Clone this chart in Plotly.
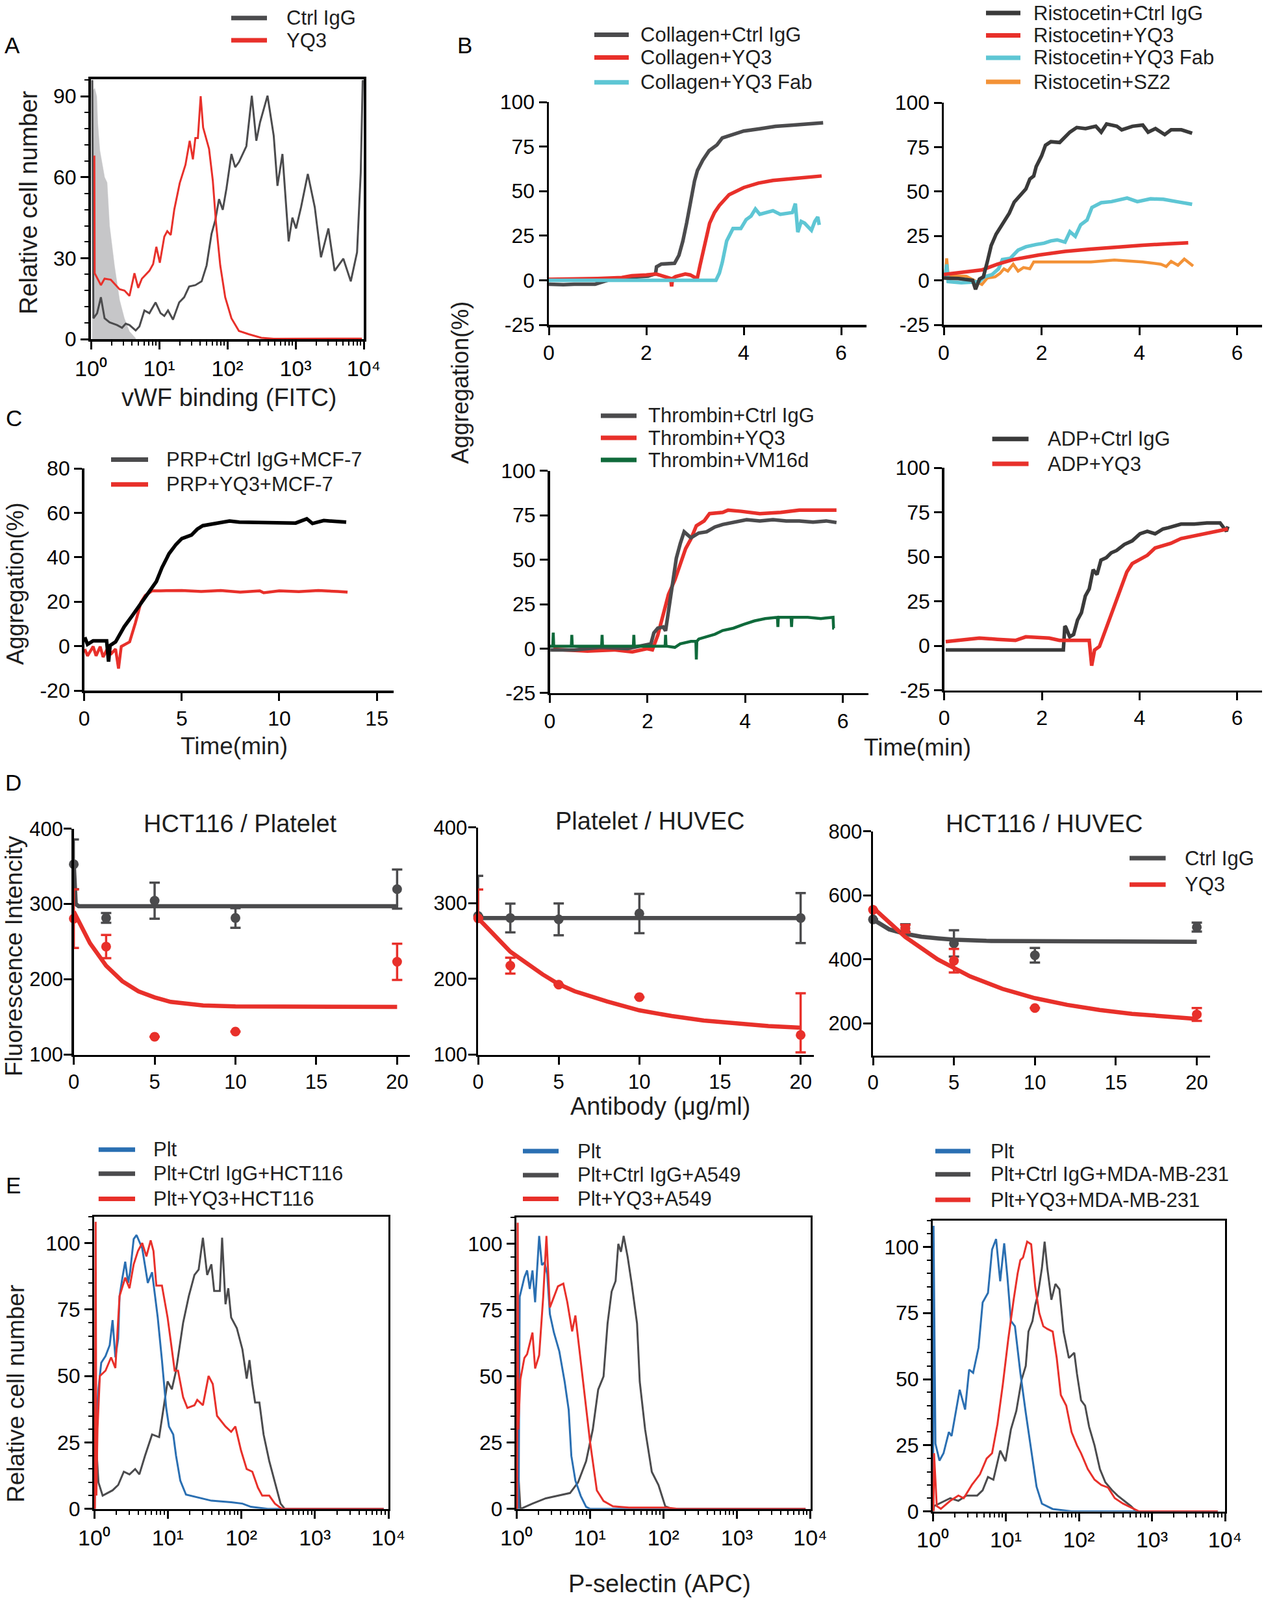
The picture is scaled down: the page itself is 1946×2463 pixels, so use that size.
import numpy as np
import plotly.graph_objects as go

W, H = 1946, 2463
FONT = "Liberation Sans, Arial, Helvetica, sans-serif"
GRAY = "#4b4b4d"
DARK = "#3a3a3a"
RED = "#e8302a"
CYAN = "#5ec6d4"
ORANGE = "#f39237"
GREEN = "#0f6a3b"
BLUE = "#2a6fb2"
SHADE = "#c6c6c8"
TXT = "#1e1e1e"

# ---------------- Panel A : vWF binding histogram (x stored as log10 of FITC) ----------------
A_iso_log10x = [0.02, 0.026, 0.055, 0.085, 0.10, 0.13, 0.20, 0.237, 0.273, 0.346, 0.42, 0.49, 0.565, 0.656]
A_iso_y = [0, 92, 93, 90, 80, 70, 60, 58, 42, 27, 14.5, 7.7, 2.8, 0.3]
A_ctrl_log10x = [0.02, 0.03, 0.036, 0.091, 0.146, 0.2, 0.273, 0.383, 0.456, 0.51, 0.565, 0.656, 0.711, 0.784,
                 0.857, 0.948, 1.021, 1.076, 1.13, 1.203, 1.294, 1.367, 1.44, 1.531, 1.623, 1.696, 1.768, 1.823,
                 1.878, 1.933, 1.987, 2.06, 2.115, 2.17, 2.224, 2.279, 2.359, 2.425, 2.48, 2.589, 2.68, 2.735,
                 2.808, 2.899, 2.954, 3.008, 3.081, 3.18, 3.282, 3.373, 3.482, 3.573, 3.701, 3.81, 3.902, 3.956, 3.985]
A_ctrl_y = [96, 40, 7.7, 9.6, 15.5, 7.7, 6.2, 5.2, 4.2, 5.7, 5.2, 3.2, 4.7, 10.6, 9.6, 13.6, 9.6, 8.6, 10.6, 7.2,
            13.6, 15.5, 19.5, 20, 21.4, 27.3, 39, 44, 51.9, 47.9, 55.8, 68.6, 63.7, 65.6, 68.6, 71.5, 90.2, 73.5,
            80.4, 90.2, 75.4, 56.8, 68.6, 36.2, 45, 41, 48.9, 61.2, 48.9, 30.3, 41, 25.3, 29.8, 21.4, 32.2, 61.7, 96]
A_yq3_log10x = [0.05, 0.055, 0.146, 0.2, 0.292, 0.346, 0.419, 0.492, 0.565, 0.638, 0.693, 0.747, 0.857, 0.912,
                0.959, 1.01, 1.076, 1.119, 1.17, 1.222, 1.302, 1.386, 1.448, 1.495, 1.531, 1.568, 1.609, 1.645,
                1.732, 1.787, 1.834, 1.896, 1.969, 2.06, 2.17, 2.315, 2.498, 2.68, 3.974]
A_yq3_y = [68, 24.4, 20, 22.4, 22, 20.4, 18.5, 18, 16, 24.4, 19, 22.4, 25.3, 27.8, 34.2, 28.3, 38, 40, 38.6, 48,
           57.8, 64.6, 73.5, 66.6, 74.5, 74.5, 90, 78.4, 70.5, 58.7, 43, 27.3, 15.5, 7.7, 3, 1.8, 0.5, 0.1, 0.2]

# ---------------- Panel B : aggregation traces (time in min, aggregation in %) ----------------
B_col_ctrl_t = [0, 0.3, 0.52, 0.95, 1.33, 1.6, 2.04, 2.19, 2.21, 2.31, 2.58, 2.67, 2.75, 2.83, 2.91, 2.99, 3.05,
                3.16, 3.29, 3.45, 3.56, 3.78, 4.0, 4.33, 4.65, 4.98, 5.3, 5.63]
B_col_ctrl_y = [-2.2, -2.5, -2.2, -2.2, 1, 1.5, 2.3, 3.6, 7.5, 9.1, 9.5, 14, 21.9, 32.3, 44, 55.7, 61.6, 67.4,
                72.7, 75.9, 79.8, 81.8, 83.7, 85, 86.3, 87, 87.6, 88.3]
B_col_yq3_t = [0, 0.5, 1.0, 1.5, 1.7, 2.0, 2.2, 2.5, 2.52, 2.54, 2.6, 2.8, 2.9, 3.0, 3.05, 3.1, 3.2, 3.3, 3.4,
               3.5, 3.7, 4.0, 4.3, 4.6, 5.0, 5.3, 5.6]
B_col_yq3_y = [0.5, 0.5, 1, 1.5, 2.5, 3, 3.5, 1, -3.5, 1, 2, 3.5, 3, 1.5, 1.5, 8, 20, 32, 38, 42, 48, 52, 54.5,
               56, 57, 57.5, 58.5]
B_col_fab_t = [0, 1, 2, 3, 3.43, 3.5, 3.56, 3.65, 3.78, 3.94, 4.05, 4.15, 4.24, 4.33, 4.45, 4.6, 4.75, 4.87,
               5.0, 5.06, 5.11, 5.18, 5.25, 5.32, 5.39, 5.46, 5.52, 5.55]
B_col_fab_y = [0, 0, 0, 0, 0, 4, 10, 22, 29, 29, 34, 36, 40, 37, 38, 39, 37, 37.5, 38, 43, 27, 33, 32, 30, 28,
               33, 35.5, 31]

B_ris_ctrl_t = [0, 0.3, 0.59, 0.65, 0.73, 0.81, 0.89, 0.97, 1.07, 1.2, 1.34, 1.44, 1.58, 1.68, 1.76, 1.84, 1.89,
                2.0, 2.08, 2.19, 2.37, 2.48, 2.58, 2.72, 2.9, 3.11, 3.22, 3.33, 3.54, 3.64, 3.86, 4.07, 4.18,
                4.33, 4.52, 4.65, 4.86, 5.08]
B_ris_ctrl_y = [1.3, 1, 0, -5, 0.7, 2, 10.4, 19.6, 26, 32, 37.8, 44, 48, 51.5, 57, 58.7, 64, 70, 76, 78, 77.6,
                80.8, 83.4, 86, 85.4, 86.7, 83.4, 88, 86.7, 84.7, 86.7, 87.4, 83.4, 85.4, 82, 84.7, 84.7, 82.8]
B_ris_yq3_t = [0, 0.78, 1.1, 1.42, 1.95, 2.48, 3.0, 3.54, 4.07, 4.6, 5.0]
B_ris_yq3_y = [3.3, 5.9, 9.1, 11.7, 14.3, 16.3, 17.6, 18.9, 19.8, 20.6, 21.1]
B_ris_fab_t = [0.03, 0.06, 0.09, 0.36, 0.73, 0.83, 0.99, 1.12, 1.2, 1.36, 1.52, 1.68, 1.89, 2.05, 2.19, 2.32,
               2.48, 2.58, 2.69, 2.8, 2.93, 3.03, 3.22, 3.43, 3.75, 3.96, 4.23, 4.49, 4.76, 5.08]
B_ris_fab_y = [2, 9, -0.7, -1.3, -0.7, 2, 3.3, 6.5, 11.7, 12.4, 17, 18.9, 20.2, 20.9, 22.2, 22.8, 21.5, 27.4,
               24.8, 31.3, 33.9, 41, 43.7, 44.3, 46.3, 44.3, 45.9, 45.6, 44.3, 42.8]
B_ris_sz2_t = [0.03, 0.06, 0.09, 0.46, 0.78, 0.89, 1.05, 1.15, 1.23, 1.31, 1.42, 1.52, 1.63, 1.76, 1.84, 2.05,
               2.48, 3.01, 3.49, 4.07, 4.44, 4.55, 4.65, 4.79, 4.92, 5.02, 5.1]
B_ris_sz2_y = [3, 12.4, 2.6, 2.3, -2.3, 1.3, 2, 3.9, 6.5, 5.2, 9.1, 5.2, 7.2, 6.5, 10.4, 10.4, 10.7, 10.4, 11.5,
               10.4, 9.1, 7.8, 10.7, 8.5, 12, 9.8, 8.1]

B_thr_ctrl_t = [0.01, 0.5, 1.04, 1.59, 2.07, 2.13, 2.21, 2.32, 2.37, 2.43, 2.51, 2.59, 2.67, 2.75, 2.89, 3.05,
                3.21, 3.38, 3.54, 3.76, 4.03, 4.3, 4.57, 4.84, 5.11, 5.39, 5.66, 5.87]
B_thr_ctrl_y = [-0.7, -0.7, 0.7, 0, 2.7, 8.8, 11.5, 12.2, 10, 21, 34.6, 50.8, 59, 65.7, 62.3, 65, 65.7, 68.4,
                69.8, 71.1, 72.5, 71.8, 72.5, 71.8, 71.8, 71.1, 71.8, 70.9]
B_thr_yq3_t = [0.07, 0.77, 1.31, 1.69, 1.99, 2.1, 2.21, 2.32, 2.43, 2.56, 2.67, 2.78, 2.89, 3.0, 3.16, 3.27,
               3.54, 3.65, 3.92, 4.3, 4.73, 5.11, 5.49, 5.87]
B_thr_yq3_y = [-0.4, -1.4, -0.7, -1.8, 0, -0.7, 7.5, 19.6, 30.5, 38.6, 48.1, 56.2, 61.7, 69.1, 71.8, 75.9, 76.6,
               77.9, 77.2, 75.9, 76.6, 77.9, 77.9, 77.9]
B_thr_vm_t = [0, 0.06, 0.07, 0.08, 0.44, 0.45, 0.46, 1.06, 1.07, 1.08, 1.71, 1.72, 1.73, 2.0, 2.36, 2.37, 2.38,
              2.56, 2.67, 2.89, 2.99, 3.0, 3.01, 3.05, 3.21, 3.38, 3.54, 3.76, 3.97, 4.19, 4.41, 4.66, 4.67, 4.68,
              4.94, 4.95, 4.96, 5.28, 5.55, 5.8, 5.81, 5.82]
B_thr_vm_y = [1.4, 1.4, 9, 1.4, 1.4, 7.7, 1.4, 1.4, 7.7, 1.4, 1.4, 7.7, 1.4, 1.4, 1.4, 7.7, 1.4, 0.7, 2.7, 4.1,
              4.1, -6.1, 4.1, 5.4, 6.8, 8.1, 10.2, 11.5, 13.6, 15.6, 16.9, 17.6, 12.2, 17.6, 17.6, 12.2, 17.6,
              17.6, 16.9, 17.6, 11.5, 11.5]

B_adp_ctrl_t = [0.03, 2.44, 2.47, 2.49, 2.57, 2.65, 2.73, 2.81, 2.89, 2.97, 3.05, 3.13, 3.21, 3.32, 3.42, 3.53,
                3.69, 3.85, 4.01, 4.16, 4.32, 4.48, 4.59, 4.85, 5.12, 5.38, 5.65, 5.78, 5.81]
B_adp_ctrl_y = [-2.4, -2.4, 11, 10.4, 5, 6.3, 14.4, 18.5, 27.9, 31.9, 42.7, 40, 48.1, 49.5, 52.2, 53.5, 56.9,
                58.9, 62.9, 64.3, 62.9, 65.6, 66.3, 68.3, 68.3, 69, 69, 64.3, 67]
B_adp_yq3_t = [0.03, 0.34, 0.72, 1.09, 1.46, 1.67, 2.15, 2.36, 2.73, 2.97, 3.02, 3.08, 3.18, 3.29, 3.4, 3.5,
               3.61, 3.74, 3.85, 4.01, 4.16, 4.32, 4.48, 4.64, 4.85, 5.12, 5.38, 5.65, 5.81]
B_adp_yq3_y = [2.3, 3, 4.3, 3.6, 3, 5, 4.3, 3, 3, 3, -11.2, -2.4, -0.4, 7.7, 15.8, 23.9, 31.9, 41.4, 46.1, 48.8,
               50.8, 54.9, 56.2, 57.5, 60.2, 61.6, 62.9, 64.3, 65.6]

# ---------------- Panel C : PRP + MCF-7 ----------------
C_ctrl_t = [0.03, 0.17, 0.46, 0.89, 1.15, 1.25, 1.33, 1.61, 2.05, 2.48, 2.91, 3.34, 3.7, 3.99, 4.35, 4.71, 5.0,
            5.5, 5.79, 6.08, 6.66, 7.45, 7.95, 9.39, 10.84, 11.41, 11.7, 12.28, 13.0, 13.43]
C_ctrl_y = [4, 0.8, 2.4, 2.4, 2.4, -7, 0.3, 1.9, 8.7, 13.9, 19.1, 24.4, 29.1, 35.4, 41.6, 45.8, 48.4, 50, 52.6,
            54.2, 55.2, 56.3, 55.8, 55.8, 55.4, 57.3, 55.2, 56.5, 56.3, 55.8]
C_yq3_t = [0.03, 0.17, 0.46, 0.61, 0.82, 0.97, 1.18, 1.4, 1.61, 1.76, 1.9, 2.12, 2.33, 2.62, 2.91, 3.13, 3.49,
           3.92, 5.0, 6.0, 7.0, 8.0, 9.0, 9.2, 10.0, 11.0, 12.0, 13.0, 13.5]
C_yq3_y = [-1.3, -4.4, -0.2, -4.4, -0.2, -4.9, -1.3, -3.3, -1.3, -10.1, -0.2, 0.8, 1.9, 10.3, 19.7, 22.8, 24.9,
           24.9, 25, 24.6, 25, 24.3, 24.9, 24.0, 24.9, 24.5, 25, 24.6, 24.3]

# ---------------- Panel D : adhesion, fluorescence intensity vs antibody ----------------
D_dose = [0, 2, 5, 10, 20]
D1_ctrl = [352.8, 281.5, 304.4, 281.5, 319.8]
D1_ctrl_err = [33, 6.5, 24, 13, 26]
D1_yq3 = [280.6, 243.5, 123.8, 130.6, 223.3]
D1_yq3_err = [39, 15.5, 0, 0, 24]
D1_ctrl_fit_x = [0, 0.12, 0.3, 5, 10, 15, 20]
D1_ctrl_fit_y = [353, 300, 297, 297, 297, 297, 297]
D1_yq3_fit_x = [0, 1, 2, 3, 4, 5, 6, 8, 10, 15, 20]
D1_yq3_fit_y = [290, 248, 218, 197.5, 184, 176, 170, 165.4, 164, 163.3, 163.3]

D2_ctrl = [283, 280.4, 278.6, 286.3, 280.4]
D2_ctrl_err_plus = [53, 19, 21, 26, 33]
D2_ctrl_err_minus = [0, 19, 21, 26, 33]
D2_yq3 = [280, 217.5, 192.4, 176, 126]
D2_yq3_err_plus = [38, 10.5, 0, 0, 55]
D2_yq3_err_minus = [0, 10.5, 0, 0, 23]
D2_ctrl_fit_x = [0, 5, 10, 15, 20]
D2_ctrl_fit_y = [280.4, 280.4, 280.4, 280.4, 280.4]
D2_yq3_fit_x = [0, 2, 4, 5, 6, 8, 10, 12, 14, 16, 18, 20]
D2_yq3_fit_y = [280, 236, 206, 193, 183.6, 170.3, 158.5, 151, 145, 140.8, 137.8, 135.5]

D3_ctrl = [525, 498, 450, 413, 501]
D3_ctrl_err = [0, 12, 41, 23, 14]
D3_yq3 = [555, 496, 396, 248, 228]
D3_yq3_err = [0, 12, 37, 0, 20]
D3_ctrl_fit_x = [0, 1, 2, 3, 4, 5, 7, 10, 15, 20]
D3_ctrl_fit_y = [525, 494, 480, 471, 466, 462, 458, 457, 456, 455]
D3_yq3_fit_x = [0, 2, 4, 5, 6, 8, 10, 12, 14, 16, 18, 20]
D3_yq3_fit_y = [562, 470, 400, 372, 347, 308, 279, 258, 242, 230, 221, 214]

# ---------------- Panel E : P-selectin histograms (x stored as log10 of APC) ----------------
E1_plt_log10x = [0.005, 0.019, 0.058, 0.096, 0.154, 0.211, 0.25, 0.288, 0.326, 0.345, 0.384, 0.422, 0.461, 0.488,
                 0.537, 0.576, 0.653, 0.729, 0.787, 0.818, 0.864, 0.921, 0.979, 1.017, 1.075, 1.113, 1.171, 1.248,
                 1.401, 1.593, 1.862, 2.015, 2.131, 2.361, 3.935]
E1_plt_y = [0, 30, 45, 55, 57.5, 61.6, 71, 57, 64, 80, 87, 93, 85, 89, 101.5, 103, 98, 85, 89, 82, 72, 56, 38,
            31, 28, 20, 10.6, 5.4, 4.3, 3.1, 2.5, 2, 0.8, 0, 0]
E1_ctrl_log10x = [0.005, 0.019, 0.058, 0.115, 0.25, 0.326, 0.403, 0.48, 0.557, 0.614, 0.691, 0.787, 0.883, 0.94,
                  0.998, 1.056, 1.113, 1.209, 1.286, 1.363, 1.42, 1.478, 1.536, 1.593, 1.631, 1.708, 1.739, 1.785,
                  1.823, 1.862, 1.939, 2.015, 2.073, 2.111, 2.15, 2.188, 2.246, 2.303, 2.38, 2.457, 2.534, 2.591,
                  3.935]
E1_ctrl_y = [0, 28, 10, 5, 7, 9, 14, 13, 15, 13, 20, 28, 27, 38, 48, 45, 52, 70, 80, 88, 90, 102, 88, 92, 82, 82,
             102, 77, 83, 72, 68, 60, 49, 56, 47, 40, 40, 28, 18, 10, 2, 0, 0]
E1_yq3_log10x = [0.01, 0.02, 0.03, 0.045, 0.077, 0.154, 0.23, 0.288, 0.345, 0.422, 0.48, 0.537, 0.595, 0.653,
                 0.71, 0.768, 0.806, 0.845, 0.921, 0.998, 1.056, 1.094, 1.14, 1.209, 1.267, 1.363, 1.401, 1.478,
                 1.555, 1.612, 1.67, 1.785, 1.862, 1.919, 1.996, 2.073, 2.15, 2.226, 2.284, 2.38, 2.457, 2.553,
                 3.935]
E1_yq3_y = [0, 108, 5, 30, 50, 52, 57, 53, 80, 87, 83, 92, 97, 100, 95, 101, 97, 84, 84, 72, 60, 52, 52, 42, 38,
            39, 41, 39, 50, 47, 35, 31, 29, 31, 22, 15, 14, 8, 5, 5, 2, 0, 0]

E2_plt_log10x = [0.03, 0.045, 0.109, 0.146, 0.182, 0.219, 0.255, 0.31, 0.347, 0.383, 0.42, 0.456, 0.511, 0.584,
                 0.657, 0.712, 0.748, 0.803, 0.876, 0.949, 1.004, 3.935]
E2_plt_y = [0, 80, 87.4, 90, 83, 90, 78, 103, 92, 93, 88.6, 73.5, 66.5, 59.5, 48, 37.4, 20, 10.7, 4.9, 0.8, 0, 0]
E2_ctrl_log10x = [0.01, 0.029, 0.055, 0.219, 0.401, 0.73, 0.839, 0.949, 1.04, 1.113, 1.186, 1.241, 1.296, 1.35,
                  1.387, 1.423, 1.46, 1.515, 1.569, 1.642, 1.679, 1.752, 1.843, 1.934, 2.026, 2.117, 3.935]
E2_ctrl_y = [0, 12, 0, 2, 4, 6, 10, 18, 30, 45, 50, 70, 82, 86, 100, 97, 103, 95, 85, 70, 48, 30, 14, 9, 1, 0, 0]
E2_yq3_log10x = [0.01, 0.018, 0.025, 0.055, 0.109, 0.146, 0.219, 0.255, 0.31, 0.365, 0.409, 0.456, 0.511, 0.566,
                 0.639, 0.693, 0.759, 0.803, 0.858, 0.931, 1.004, 1.095, 1.186, 1.314, 1.533, 2.044, 2.2, 3.935]
E2_yq3_y = [0, 108, 30, 49, 57, 58.4, 66.5, 53, 58, 80, 103, 76, 80, 84, 85, 78, 67, 73, 60, 43, 25, 7, 3, 1,
            0.5, 0.5, 0, 0]

E3_plt_log10x = [0.005, 0.011, 0.037, 0.092, 0.148, 0.221, 0.258, 0.314, 0.369, 0.443, 0.498, 0.553, 0.627,
                 0.683, 0.756, 0.812, 0.867, 0.923, 0.978, 1.022, 1.07, 1.125, 1.199, 1.273, 1.347, 1.421, 1.494,
                 1.642, 1.9, 3.9]
E3_plt_y = [0, 108, 25.6, 19.2, 22, 30, 28.5, 37.3, 46, 38.5, 53.6, 52.4, 62, 79, 82.6, 99, 103, 87, 101.4,
            88.6, 72, 70, 52.4, 37.3, 23.3, 9.3, 2.9, 0.9, 0, 0]
E3_ctrl_log10x = [0.01, 0.018, 0.24, 0.351, 0.461, 0.609, 0.683, 0.756, 0.83, 0.923, 0.996, 1.07, 1.144, 1.218,
                  1.273, 1.31, 1.365, 1.402, 1.439, 1.494, 1.531, 1.568, 1.624, 1.679, 1.734, 1.79, 1.863, 1.937,
                  1.974, 2.03, 2.085, 2.14, 2.214, 2.288, 2.362, 2.454, 2.528, 2.62, 2.712, 2.786, 3.9]
E3_ctrl_y = [0, 2, 5, 4, 6, 6, 8, 13, 12, 23, 19, 31, 38, 50, 55, 68, 72, 78, 82, 92, 102, 92, 80, 86, 84, 68,
             58, 60, 52, 42, 40, 32, 25, 16, 11, 8, 6, 4, 2, 0, 0]
E3_yq3_log10x = [0.01, 0.018, 0.055, 0.111, 0.24, 0.351, 0.424, 0.535, 0.646, 0.738, 0.812, 0.886, 0.959, 1.033,
                 1.107, 1.162, 1.199, 1.236, 1.292, 1.347, 1.402, 1.458, 1.513, 1.568, 1.642, 1.697, 1.753, 1.827,
                 1.9, 1.974, 2.03, 2.122, 2.214, 2.306, 2.399, 2.491, 2.601, 2.712, 2.823, 3.9]
E3_yq3_y = [0, 22, 2, 1, 4, 6, 5, 10, 14, 20, 22, 33, 48, 65, 80, 90, 95, 96, 102, 101, 85, 75, 70, 69, 68, 58, 44,
            40, 30, 25, 22, 16, 12, 10, 9, 5, 3, 1.5, 0, 0]

# ---------------- tick labels ----------------
DECADE_VALS = [1, 10, 100, 1000, 10000]
DECADE_TEXT = ["10\u2070", "10\u00b9", "10\u00b2", "10\u00b3", "10\u2074"]
DECADE_MINOR = [m * 10 ** d for d in range(4) for m in range(2, 10)]
AGG_TICKS = [-25, 0, 25, 50, 75, 100]
AGG_TEXT = ["-25", "0", "25", "50", "75", "100"]
C_TICKS = [-20, 0, 20, 40, 60, 80]
C_TEXT = ["-20", "0", "20", "40", "60", "80"]
TIME_TICKS = [0, 2, 4, 6]
DOSE_TICKS = [0, 5, 10, 15, 20]

fig = go.Figure()


def sfx(n):
    return "" if n == 1 else str(n)


def axes(n, xpx, ypx, xr, yr, xt, yt, xtt=None, ytt=None, xtype="linear", box=False, lw=3.5,
         xminor=None, yminor=None, tsize=32, ystand=0, xtsize=None):
    s = sfx(n)
    base = dict(showgrid=False, zeroline=False, showline=True, linecolor="black", linewidth=lw,
                mirror=box, ticks="outside", ticklen=12, tickwidth=3, tickcolor="black",
                tickfont=dict(family=FONT, size=tsize, color="black"), tickmode="array",
                fixedrange=True)
    xa = dict(base, domain=[xpx[0] / W, xpx[1] / W], range=xr, type=xtype, anchor="y" + s,
              tickvals=xt)
    if xtsize is not None:
        xa["tickfont"] = dict(family=FONT, size=xtsize, color="black")
    if xtt is not None:
        xa["ticktext"] = xtt
    if xminor is not None:
        xa["minor"] = xminor
    ya = dict(base, domain=[1 - ypx[1] / H, 1 - ypx[0] / H], range=yr, anchor="x" + s, tickvals=yt,
              ticklabelstandoff=ystand)
    if ytt is not None:
        ya["ticktext"] = ytt
    if yminor is not None:
        ya["minor"] = yminor
    fig.update_layout(**{"xaxis" + s: xa, "yaxis" + s: ya})


def line(n, x, y, color, width, name, fill=None, fillcolor=None):
    s = sfx(n)
    fig.add_trace(go.Scatter(x=x, y=y, mode="lines", name=name, showlegend=False,
                             line=dict(color=color, width=width), fill=fill, fillcolor=fillcolor,
                             xaxis="x" + s, yaxis="y" + s))


def points(n, x, y, plus, minus, color, name):
    s = sfx(n)
    fig.add_trace(go.Scatter(x=x, y=y, mode="markers", name=name, showlegend=False, cliponaxis=False,
                             marker=dict(size=15, color=color),
                             error_y=dict(type="data", symmetric=False, array=plus, arrayminus=minus,
                                          color=color, thickness=3.5, width=8),
                             xaxis="x" + s, yaxis="y" + s))


def legend(entries, xl0, xl1, xt, rows, size=31):
    for (label, color), yy in zip(entries, rows):
        fig.add_shape(type="line", xref="paper", yref="paper", x0=xl0 / W, x1=xl1 / W,
                      y0=1 - yy / H, y1=1 - yy / H, line=dict(color=color, width=7))
        fig.add_annotation(xref="paper", yref="paper", x=xt / W, y=1 - yy / H, text=label,
                           showarrow=False, xanchor="left", yanchor="middle",
                           font=dict(family=FONT, size=size, color=TXT))


def label(text, x, y, size=38, angle=0, color=TXT):
    fig.add_annotation(xref="paper", yref="paper", x=x / W, y=1 - y / H, text=text, showarrow=False,
                       xanchor="center", yanchor="middle", textangle=angle,
                       font=dict(family=FONT, size=size, color=color))


minor_log = dict(tickmode="array", tickvals=DECADE_MINOR, ticks="outside", ticklen=6, tickwidth=2,
                 tickcolor="black", showgrid=False)

# ---- axes ----
axes(1, (140, 560), (122, 522), [0, 4], [0, 96.3], DECADE_VALS, [0, 30, 60, 90], DECADE_TEXT,
     xtype="log", box=True, lw=4, xminor=minor_log, xtsize=34,
     yminor=dict(tickmode="linear", tick0=0, dtick=6, ticks="outside", ticklen=6, tickwidth=2,
                 tickcolor="black", showgrid=False))
axes(2, (845, 1334), (157, 500), [0, 6.52], [-25, 100], TIME_TICKS, AGG_TICKS, ytt=AGG_TEXT)
axes(3, (1453, 1943), (158, 500), [0, 6.51], [-25, 100], TIME_TICKS, AGG_TICKS, ytt=AGG_TEXT)
axes(4, (129.6, 605.7), (721, 1063), [0, 15.85], [-20, 80], [0, 5, 10, 15], C_TICKS, ytt=C_TEXT)
axes(5, (846.5, 1336.7), (724.7, 1066.9), [0, 6.52], [-25, 100], TIME_TICKS, AGG_TICKS, ytt=AGG_TEXT)
axes(6, (1453.7, 1943), (720, 1062.5), [0, 6.51], [-25, 100], TIME_TICKS, AGG_TICKS, ytt=AGG_TEXT)
axes(7, (113.6, 631.3), (1275.7, 1623.5), [0, 20.8], [100, 400], DOSE_TICKS, [100, 200, 300, 400],
     tsize=31, ystand=-5)
axes(8, (736, 1252.5), (1273.7, 1623.5), [0, 20.8], [100, 400], DOSE_TICKS, [100, 200, 300, 400],
     tsize=31, ystand=-5)
axes(9, (1344, 1862.5), (1279.9, 1624.7), [0, 20.8], [100, 800], DOSE_TICKS, [200, 400, 600, 800],
     tsize=31, ystand=-5)
e_yminor = dict(tickmode="linear", tick0=0, dtick=5, ticks="outside", ticklen=6, tickwidth=2,
                tickcolor="black", showgrid=False)
axes(10, (145, 598), (1872.6, 2322.8), [0, 4], [0, 110], DECADE_VALS, [0, 25, 50, 75, 100], DECADE_TEXT,
     xtype="log", box=True, lw=3, xminor=minor_log, yminor=e_yminor, xtsize=34)
axes(11, (795, 1247.5), (1874, 2322.8), [0, 4], [0, 110], DECADE_VALS, [0, 25, 50, 75, 100], DECADE_TEXT,
     xtype="log", box=True, lw=3, xminor=minor_log, yminor=e_yminor, xtsize=34)
axes(12, (1436, 1886), (1878.8, 2326.6), [0, 4], [0, 110], DECADE_VALS, [0, 25, 50, 75, 100], DECADE_TEXT,
     xtype="log", box=True, lw=3, xminor=minor_log, yminor=e_yminor, xtsize=34)

# ---- traces ----
def tenpow(v):
    return np.power(10.0, np.array(v))


line(1, tenpow(A_iso_log10x), A_iso_y, SHADE, 0.5, "Isotype", fill="tozeroy", fillcolor=SHADE)
line(1, tenpow(A_ctrl_log10x), A_ctrl_y, GRAY, 3, "Ctrl IgG")
line(1, tenpow(A_yq3_log10x), A_yq3_y, RED, 3, "YQ3")

line(2, B_col_ctrl_t, B_col_ctrl_y, GRAY, 5.5, "Collagen+Ctrl IgG")
line(2, B_col_yq3_t, B_col_yq3_y, RED, 5.5, "Collagen+YQ3")
line(2, B_col_fab_t, B_col_fab_y, CYAN, 5.5, "Collagen+YQ3 Fab")

line(3, B_ris_sz2_t, B_ris_sz2_y, ORANGE, 4.5, "Ristocetin+SZ2")
line(3, B_ris_fab_t, B_ris_fab_y, CYAN, 5.5, "Ristocetin+YQ3 Fab")
line(3, B_ris_yq3_t, B_ris_yq3_y, RED, 5.5, "Ristocetin+YQ3")
line(3, B_ris_ctrl_t, B_ris_ctrl_y, DARK, 5.5, "Ristocetin+Ctrl IgG")

line(4, C_yq3_t, C_yq3_y, RED, 4.5, "PRP+YQ3+MCF-7")
line(4, C_ctrl_t, C_ctrl_y, "black", 5.5, "PRP+Ctrl IgG+MCF-7")

line(5, B_thr_yq3_t, B_thr_yq3_y, RED, 5.5, "Thrombin+YQ3")
line(5, B_thr_ctrl_t, B_thr_ctrl_y, GRAY, 5.5, "Thrombin+Ctrl IgG")
line(5, B_thr_vm_t, B_thr_vm_y, GREEN, 4.5, "Thrombin+VM16d")

line(6, B_adp_ctrl_t, B_adp_ctrl_y, DARK, 5.5, "ADP+Ctrl IgG")
line(6, B_adp_yq3_t, B_adp_yq3_y, RED, 5.5, "ADP+YQ3")

line(7, D1_ctrl_fit_x, D1_ctrl_fit_y, GRAY, 6.5, "Ctrl IgG fit")
line(7, D1_yq3_fit_x, D1_yq3_fit_y, RED, 6.5, "YQ3 fit")
points(7, D_dose, D1_ctrl, D1_ctrl_err, D1_ctrl_err, GRAY, "Ctrl IgG")
points(7, D_dose, D1_yq3, D1_yq3_err, D1_yq3_err, RED, "YQ3")

line(8, D2_ctrl_fit_x, D2_ctrl_fit_y, GRAY, 6.5, "Ctrl IgG fit")
line(8, D2_yq3_fit_x, D2_yq3_fit_y, RED, 6.5, "YQ3 fit")
points(8, D_dose, D2_ctrl, D2_ctrl_err_plus, D2_ctrl_err_minus, GRAY, "Ctrl IgG")
points(8, D_dose, D2_yq3, D2_yq3_err_plus, D2_yq3_err_minus, RED, "YQ3")

line(9, D3_ctrl_fit_x, D3_ctrl_fit_y, GRAY, 6.5, "Ctrl IgG fit")
line(9, D3_yq3_fit_x, D3_yq3_fit_y, RED, 6.5, "YQ3 fit")
points(9, D_dose, D3_ctrl, D3_ctrl_err, D3_ctrl_err, GRAY, "Ctrl IgG")
points(9, D_dose, D3_yq3, D3_yq3_err, D3_yq3_err, RED, "YQ3")

line(10, tenpow(E1_ctrl_log10x), E1_ctrl_y, GRAY, 3, "Plt+Ctrl IgG+HCT116")
line(10, tenpow(E1_plt_log10x), E1_plt_y, BLUE, 3, "Plt")
line(10, tenpow(E1_yq3_log10x), E1_yq3_y, RED, 3, "Plt+YQ3+HCT116")
line(11, tenpow(E2_ctrl_log10x), E2_ctrl_y, GRAY, 3, "Plt+Ctrl IgG+A549")
line(11, tenpow(E2_plt_log10x), E2_plt_y, BLUE, 3, "Plt")
line(11, tenpow(E2_yq3_log10x), E2_yq3_y, RED, 3, "Plt+YQ3+A549")
line(12, tenpow(E3_ctrl_log10x), E3_ctrl_y, GRAY, 3, "Plt+Ctrl IgG+MDA-MB-231")
line(12, tenpow(E3_plt_log10x), E3_plt_y, BLUE, 3, "Plt")
line(12, tenpow(E3_yq3_log10x), E3_yq3_y, RED, 3, "Plt+YQ3+MDA-MB-231")

# ---- legends ----
legend([("Ctrl IgG", GRAY), ("YQ3", RED)], 356, 411, 439, [27.8, 62])
legend([("Collagen+Ctrl IgG", GRAY), ("Collagen+YQ3", RED), ("Collagen+YQ3 Fab", CYAN)],
       915, 968, 984, [53.6, 88.6, 126.8])
legend([("Ristocetin+Ctrl IgG", DARK), ("Ristocetin+YQ3", RED), ("Ristocetin+YQ3 Fab", CYAN),
        ("Ristocetin+SZ2", ORANGE)], 1518, 1571, 1589, [20, 54.5, 89, 126])
legend([("PRP+Ctrl IgG+MCF-7", GRAY), ("PRP+YQ3+MCF-7", RED)], 171, 228, 254, [707.5, 745.7])
legend([("Thrombin+Ctrl IgG", GRAY), ("Thrombin+YQ3", RED), ("Thrombin+VM16d", GREEN)],
       925, 980, 996, [640, 674, 708])
legend([("ADP+Ctrl IgG", DARK), ("ADP+YQ3", RED)], 1527.6, 1583.5, 1611, [675.8, 714])
legend([("Ctrl IgG", GRAY), ("YQ3", RED)], 1739, 1794.6, 1822, [1321, 1361.8])
legend([("Plt", BLUE), ("Plt+Ctrl IgG+HCT116", GRAY), ("Plt+YQ3+HCT116", RED)],
       151.8, 208, 234, [1769.8, 1806.7, 1845.6])
legend([("Plt", BLUE), ("Plt+Ctrl IgG+A549", GRAY), ("Plt+YQ3+A549", RED)],
       805, 860, 886.5, [1772, 1809, 1845.6])
legend([("Plt", BLUE), ("Plt+Ctrl IgG+MDA-MB-231", GRAY), ("Plt+YQ3+MDA-MB-231", RED)],
       1440, 1494, 1522.5, [1772, 1807.7, 1847])

# ---- panel letters, titles ----
label("A", 19, 69, size=35, color="black")
label("B", 715, 70, size=35, color="black")
label("C", 21, 643, size=35, color="black")
label("D", 20, 1204, size=35, color="black")
label("E", 20, 1824, size=35, color="black")

label("Relative cell number", 44, 312, angle=-90)
label("vWF binding (FITC)", 352, 612)
label("Aggregation(%)", 708, 589, size=36, angle=-90)
label("Aggregation(%)", 24, 898.6, size=36, angle=-90)
label("Time(min)", 360, 1148.6, size=37)
label("Time(min)", 1412, 1151, size=37)
label("Fluorescence Intencity", 22, 1472, size=37, angle=-90)
label("Antibody (μg/ml)", 1016.7, 1703.4)
label("Relative cell number", 24, 2146, size=37, angle=-90)
label("P-selectin (APC)", 1015, 2438)
label("HCT116 / Platelet", 369.6, 1267.8)
label("Platelet / HUVEC", 1000, 1264.4)
label("HCT116 / HUVEC", 1607.8, 1267.8)

fig.update_layout(width=W, height=H, margin=dict(l=0, r=0, t=0, b=0), template="none",
                  paper_bgcolor="white", plot_bgcolor="rgba(0,0,0,0)", showlegend=False,
                  font=dict(family=FONT, color="black"))

fig.write_html("out.html", config={"displayModeBar": False, "staticPlot": True},
               post_script="document.body.style.margin='0px';")
